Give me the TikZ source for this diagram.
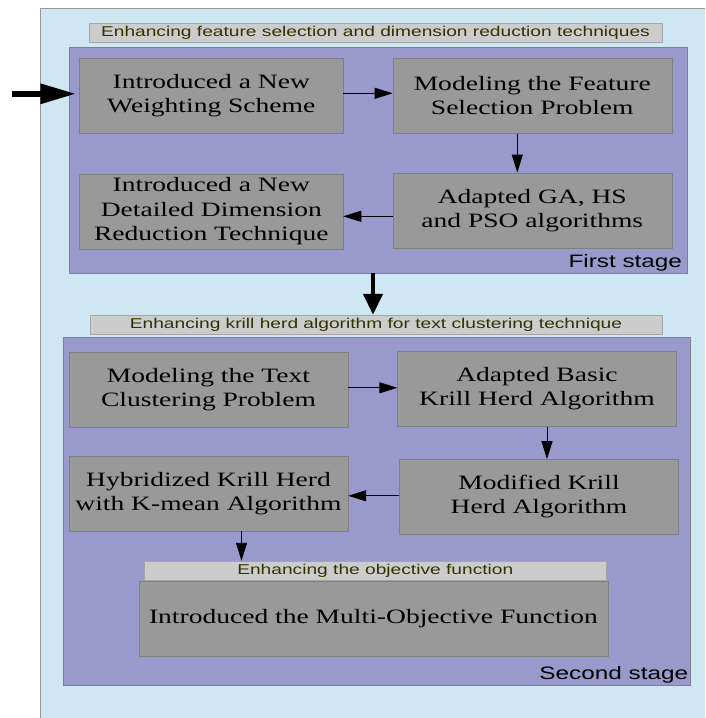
\documentclass[tikz,border=0pt]{standalone}
\usepackage{fontspec}
\setmainfont{Liberation Serif}[FakeStretch=1.35]
\setsansfont{Liberation Sans}[FakeStretch=1.35]
\usepackage{tikz}
\usetikzlibrary{positioning, arrows.meta}
\usepackage{xcolor}
\definecolor{panel}{RGB}{207, 231, 243}
\definecolor{stagefill}{RGB}{153, 153, 204}
\definecolor{boxfill}{RGB}{153, 153, 153}
\definecolor{boxline}{RGB}{128, 128, 128}
\definecolor{titlefill}{RGB}{204, 204, 204}
\definecolor{titletext}{RGB}{51, 51, 0}

\begin{document}
\begin{tikzpicture}[x=1pt, y=-1pt,
    stagebox/.style={draw=boxline, fill=stagefill, inner sep=0pt},
    stepbox/.style={draw=boxline, fill=boxfill, align=center, inner sep=0pt,
      minimum width=279pt, minimum height=75pt,
      font=\fontsize{20.4}{24.3}\selectfont},
    title/.style={draw=boxline!70, fill=titlefill, text=titletext, inner sep=0pt,
      minimum height=19pt, font=\sffamily\fontsize{14.2}{17}\selectfont},
    stagelabel/.style={anchor=south east, font=\sffamily\fontsize{18}{20}\selectfont},
    flow/.style={-{Triangle[length=18pt, width=11pt]}, line width=0.9pt},
    bigflow/.style={-{Triangle[length=21pt, width=19pt]}, line width=4pt}]
  \useasboundingbox (0,0) rectangle (705,718);
  \fill[panel] (40,8) rectangle (705,718);
  \draw[boxline!80] (40,718) -- (40,8) -- (705,8);

  % First stage
  \node[stagebox, minimum width=618pt, minimum height=226pt] (S1) at (378,159.7) {};
  \node[title, minimum width=573pt] (T1) at (375.5,32.5)
    {Enhancing feature selection and dimension reduction techniques};
  \node[stepbox, minimum width=263.5pt] (A) at (211.3,95.8) {Introduced a New\\Weighting Scheme};
  \node[stepbox] (B) at (532.3,95.8) {Modeling the Feature\\Selection Problem};
  \node[stepbox] (C) at (532.3,210.3) {Adapted GA, HS\\and PSO algorithms};
  \node[stepbox, minimum width=263.5pt] (D) at (211.3,211.2)
    {Introduced a New\\Detailed Dimension\\Reduction Technique};
  \node[stagelabel, inner xsep=5pt, inner ysep=1pt] (lbl1) at (S1.south east) {First stage};

  % Second stage
  \node[title, minimum width=572pt] (T2) at (376,324.5)
    {Enhancing krill herd algorithm for text clustering technique};
  \node[stagebox, minimum width=627.6pt, minimum height=348pt] (S2) at (376.8,511.3) {};
  \node[stepbox] (E) at (208.5,389.8) {Modeling the Text\\Clustering Problem};
  \node[stepbox] (F) at (537,388.8) {Adapted Basic\\Krill Herd Algorithm};
  \node[stepbox] (G) at (539,496.8) {Modified Krill\\Herd Algorithm};
  \node[stepbox] (H) at (208.5,493.5) {Hybridized Krill Herd\\with K-mean Algorithm};
  \node[title, minimum width=462.6pt] (T3) at (375.3,570.5) {Enhancing the objective function};
  \node[stepbox, minimum width=469pt] (I) at (373.5,618.7) {Introduced the Multi-Objective Function};
  \node[stagelabel, inner xsep=2.5pt, inner ysep=2.5pt] (lbl2) at (S2.south east) {Second stage};

  % Connectors
  \coordinate (in) at (12,93.8);
  \draw[-{Triangle[length=36pt, width=19pt]}, line width=6pt, shorten >=3pt] (in) -- (in -| A.west);
  \draw[flow] ([yshift=2.5pt]A.east) -- ([yshift=2.5pt]A.east -| B.west);
  \draw[flow] ([xshift=-15pt]B.south) -- ([xshift=-15pt]B.south |- C.north);
  \draw[flow] ([yshift=-6pt]C.west) -- ([yshift=-6pt]C.west -| D.east);
  \draw[bigflow] ([xshift=-3pt]T2.north |- S1.south) -- ([xshift=-3pt]T2.north);
  \draw[flow] ([yshift=2pt]E.east) -- ([yshift=2pt]E.east -| F.west);
  \draw[flow] ([xshift=10pt]F.south) -- ([xshift=10pt]F.south |- G.north);
  \draw[flow] ([yshift=1pt]G.west) -- ([yshift=1pt]G.west -| H.east);
  \draw[flow] ([xshift=33pt]H.south) -- ([xshift=33pt]H.south |- T3.north);
\end{tikzpicture}
\end{document}
